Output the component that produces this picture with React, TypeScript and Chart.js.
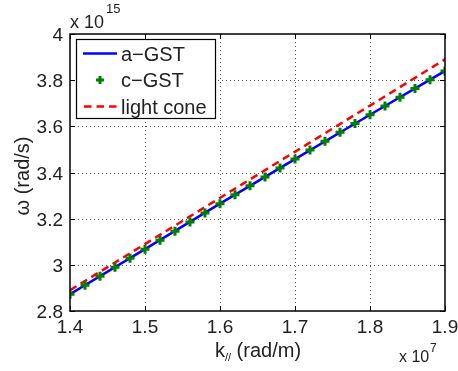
import React, { useEffect, useRef } from "react";
import { Chart, registerables } from "chart.js";

Chart.register(...registerables);

const kLine = [1.4, 1.5, 1.6, 1.7, 1.8, 1.9];
const aGST = [2.873, 3.068, 3.265, 3.458, 3.65, 3.84];
const kMarkers = [1.4, 1.42, 1.44, 1.46, 1.48, 1.5, 1.52, 1.54, 1.56, 1.58, 1.6, 1.62, 1.64, 1.66, 1.68, 1.7, 1.72, 1.74, 1.76, 1.78, 1.8, 1.82, 1.84, 1.86, 1.88, 1.9];
const cGST = [2.873, 2.912, 2.951, 2.99, 3.029, 3.068, 3.107, 3.146, 3.186, 3.225, 3.265, 3.304, 3.343, 3.381, 3.42, 3.458, 3.497, 3.535, 3.574, 3.612, 3.65, 3.688, 3.726, 3.764, 3.802, 3.84];
const kCone = [1.4, 1.9];
const lightCone = [2.89, 3.89];
const xTicks = [1.4, 1.5, 1.6, 1.7, 1.8, 1.9];
const yTicks = [2.8, 3.0, 3.2, 3.4, 3.6, 3.8, 4.0];
const legendLabels = ["a\u2212GST", "c\u2212GST", "light cone"];

const FONT = "'Liberation Sans', Arial, Helvetica, sans-serif";
const fmt = (v: number) => String(Number(v.toFixed(1)));

export default function App() {
  const ref = useRef<HTMLCanvasElement | null>(null);
  useEffect(() => {
    document.body.style.margin = "0";
    const canvas = ref.current!;
    const grid = {
      id: "gridDots",
      beforeDatasetsDraw(chart: any) {
        const ctx = chart.ctx;
        const a = chart.chartArea;
        const xs = chart.scales.x;
        const ys = chart.scales.y;
        ctx.save();
        ctx.strokeStyle = "#555";
        ctx.lineWidth = 1;
        ctx.setLineDash([1, 3]);
        xTicks.slice(1, -1).forEach((v) => {
          const px = Math.round(xs.getPixelForValue(v)) + 0.5;
          ctx.beginPath();
          ctx.moveTo(px, a.bottom);
          ctx.lineTo(px, a.top);
          ctx.stroke();
        });
        yTicks.slice(1, -1).forEach((v) => {
          const py = Math.round(ys.getPixelForValue(v)) + 0.5;
          ctx.beginPath();
          ctx.moveTo(a.left, py);
          ctx.lineTo(a.right, py);
          ctx.stroke();
        });
        ctx.restore();
      },
    };
    const decor = {
      id: "decor",
      afterDatasetsDraw(chart: any) {
        const ctx = chart.ctx;
        const a = chart.chartArea;
        const xs = chart.scales.x;
        const ys = chart.scales.y;
        ctx.save();
        ctx.strokeStyle = "#000";
        ctx.lineWidth = 1.5;
        ctx.strokeRect(a.left, a.top, a.right - a.left, a.bottom - a.top);
        ctx.lineWidth = 1;
        const tl = 5;
        xTicks.forEach((v) => {
          const px = Math.round(xs.getPixelForValue(v)) + 0.5;
          ctx.beginPath();
          ctx.moveTo(px, a.bottom);
          ctx.lineTo(px, a.bottom - tl);
          ctx.moveTo(px, a.top);
          ctx.lineTo(px, a.top + tl);
          ctx.stroke();
        });
        yTicks.forEach((v) => {
          const py = Math.round(ys.getPixelForValue(v)) + 0.5;
          ctx.beginPath();
          ctx.moveTo(a.left, py);
          ctx.lineTo(a.left + tl, py);
          ctx.moveTo(a.right, py);
          ctx.lineTo(a.right - tl, py);
          ctx.stroke();
        });
        ctx.fillStyle = "#222";
        ctx.font = `19px ${FONT}`;
        ctx.textBaseline = "alphabetic";
        ctx.textAlign = "center";
        xTicks.forEach((v) => {
          ctx.fillText(fmt(v), xs.getPixelForValue(v), a.bottom + 22);
        });
        ctx.textAlign = "right";
        yTicks.forEach((v) => {
          ctx.fillText(fmt(v), a.left - 7, ys.getPixelForValue(v) + 7);
        });
        ctx.textAlign = "left";
        ctx.font = `18px ${FONT}`;
        ctx.fillText("x 10", 70, 28);
        ctx.font = `13px ${FONT}`;
        ctx.fillText("15", 106, 13);
        ctx.font = `16px ${FONT}`;
        ctx.fillText("x 10", 399, 362);
        ctx.font = `12px ${FONT}`;
        ctx.fillText("7", 430, 352);
        const part1 = "k";
        const part3 = " (rad/m)";
        ctx.font = `11px ${FONT}`;
        const w2 = ctx.measureText("//").width;
        ctx.font = `20px ${FONT}`;
        const w1 = ctx.measureText(part1).width;
        const w3 = ctx.measureText(part3).width;
        const total = w1 + w2 + w3;
        const x0 = 258 - total / 2;
        const by = 357;
        ctx.fillText(part1, x0, by);
        ctx.font = `11px ${FONT}`;
        ctx.fillText("//", x0 + w1, by + 4);
        ctx.font = `20px ${FONT}`;
        ctx.fillText(part3, x0 + w1 + w2, by);
        ctx.save();
        ctx.translate(29, 176);
        ctx.rotate(-Math.PI / 2);
        ctx.textAlign = "center";
        ctx.font = `20px ${FONT}`;
        ctx.fillText("\u03c9 (rad/s)", 0, 0);
        ctx.restore();
        const lx = 76, ly = 39, lw = 139, lh = 79;
        ctx.fillStyle = "#fff";
        ctx.fillRect(lx, ly, lw, lh);
        ctx.strokeStyle = "#000";
        ctx.lineWidth = 1.2;
        ctx.strokeRect(lx + 0.5, ly + 0.5, lw, lh);
        const rows = [53.5, 80, 106.5];
        ctx.strokeStyle = "#0000ff";
        ctx.lineWidth = 2.5;
        ctx.beginPath();
        ctx.moveTo(83, rows[0]);
        ctx.lineTo(117, rows[0]);
        ctx.stroke();
        ctx.strokeStyle = "#008000";
        ctx.lineWidth = 3;
        ctx.beginPath();
        ctx.moveTo(100 - 4, rows[1]);
        ctx.lineTo(100 + 4, rows[1]);
        ctx.moveTo(100, rows[1] - 4);
        ctx.lineTo(100, rows[1] + 4);
        ctx.stroke();
        ctx.strokeStyle = "#ff0000";
        ctx.lineWidth = 2.5;
        ctx.setLineDash([7.5, 5]);
        ctx.beginPath();
        ctx.moveTo(84, rows[2]);
        ctx.lineTo(117, rows[2]);
        ctx.stroke();
        ctx.setLineDash([]);
        ctx.fillStyle = "#222";
        ctx.font = `20px ${FONT}`;
        ctx.textBaseline = "alphabetic";
        ctx.textAlign = "left";
        legendLabels.forEach((t, i) => ctx.fillText(t, 121, rows[i] + 7));
        ctx.restore();
      },
    };
    const chart = new Chart(canvas, {
      type: "line",
      data: {
        datasets: [
          {
            label: legendLabels[1],
            data: kMarkers.map((k, i) => ({ x: k, y: cGST[i] })),
            showLine: false,
            pointStyle: "cross",
            pointRadius: 4.5,
            pointBorderWidth: 3,
            pointBorderColor: "#008000",
            pointBackgroundColor: "#008000",
            borderColor: "#008000",
            order: 1,
          },
          {
            label: legendLabels[2],
            data: kCone.map((k, i) => ({ x: k, y: lightCone[i] })),
            borderColor: "#ff0000",
            borderWidth: 2.5,
            borderDash: [7.5, 5],
            pointRadius: 0,
            order: 2,
          },
          {
            label: legendLabels[0],
            data: kLine.map((k, i) => ({ x: k, y: aGST[i] })),
            borderColor: "#0000ff",
            borderWidth: 2.5,
            pointRadius: 0,
            order: 3,
          },
        ],
      },
      options: {
        animation: false,
        responsive: false,
        devicePixelRatio: 1,
        layout: { padding: { left: 0, right: 13, top: 34, bottom: 0 } },
        plugins: { legend: { display: false }, tooltip: { enabled: false } },
        scales: {
          x: {
            type: "linear",
            min: 1.4,
            max: 1.9,
            afterFit: (s: any) => {
              s.height = 60;
            },
            border: { display: false },
            grid: { display: false },
            ticks: { display: false },
          },
          y: {
            type: "linear",
            min: 2.8,
            max: 4.0,
            afterFit: (s: any) => {
              s.width = 70;
            },
            border: { display: false },
            grid: { display: false },
            ticks: { display: false },
          },
        },
      },
      plugins: [grid, decor],
    } as any);
    return () => chart.destroy();
  }, []);
  return (
    <div style={{ position: "absolute", left: 0, top: 0, width: 458, height: 371, background: "#fff" }}>
      <canvas ref={ref} width={458} height={371} style={{ display: "block" }} />
    </div>
  );
}
